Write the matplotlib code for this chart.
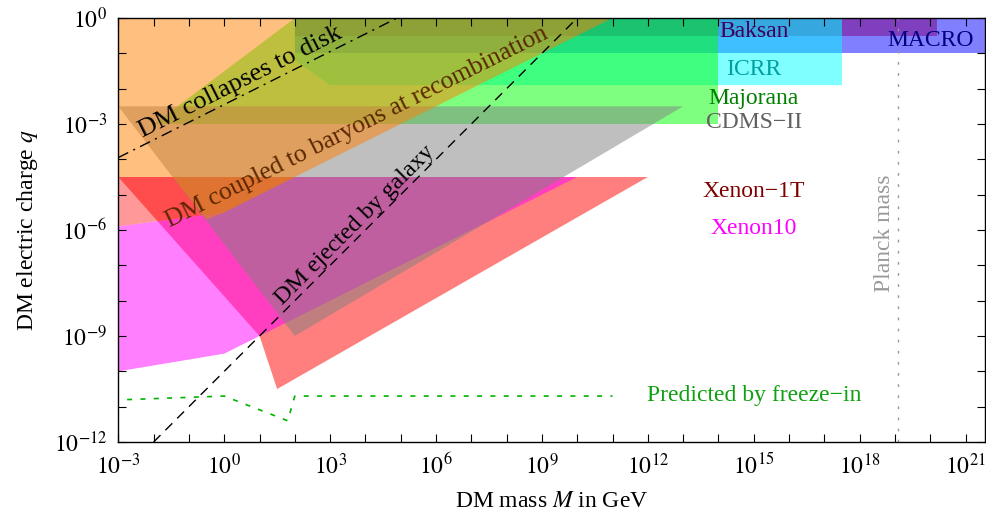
import matplotlib.pyplot as plt
import numpy as np

plt.rcParams['font.family'] = 'serif'
plt.rcParams['font.serif'] = ['Liberation Serif', 'DejaVu Serif']
plt.rcParams['mathtext.fontset'] = 'stix'

# --- Data: polygon vertices as log10(M / GeV), log10(q) ---
icrr_m = [2, 17.5, 17.5, 3, 2]
icrr_q = [0, 0, -1.9, -1.9, -1.2]
baksan_m = [2, 17.5, 17.5, 2]
baksan_q = [0, 0, -1, -1]
majorana_m = [2, 14, 14, -2]
majorana_q = [0, 0, -3, -3]
topband_m = [2, 17.5, 17.5, 2]
topband_q = [0, 0, -0.5, -0.5]
macro_m = [17.5, 21.6, 21.6, 17.5]
macro_q = [0, 0, -1, -1]
macro2_m = [17.5, 20.2, 20.2, 17.5]
macro2_q = [0, 0, -0.5, -0.5]
xenon1t_m = [-3, 12, 1.5, 1]
xenon1t_q = [-4.5, -4.5, -10.5, -9]
red2_m = [-3, 2, 0, -3]
red2_q = [-4.5, -4.5, -5.5, -5.9]
xenon10_m = [-3, 0, 2, 10, 1, 0, -3]
xenon10_q = [-5.9, -5.5, -4.5, -4.5, -9, -9.5, -10]
cdms_m = [-3, 13, 2]
cdms_q = [-2.5, -2.5, -9]
baryon_m = [-3, 11, 0, -0.5, -1.46, -3]
baryon_q = [0, 0, -5.5, -5.7, -4.5, -4.5]

# lines
collapse_m = [-3, 4.9]
collapse_q = [-3.95, 0]
ejected_m = [-2, 10]
ejected_q = [-12, 0]
freezein_m = [-2.75, 0, 1.8, 2, 11]
freezein_q = [-10.8, -10.7, -11.4, -10.7, -10.7]
planck_mass = 1.22e19

fig = plt.figure(figsize=(9.86, 5.2), dpi=100)
ax = fig.add_axes([118.3 / 986, 78 / 520, 867 / 986, 424 / 520])
ax.set_xscale('log')
ax.set_yscale('log')


def region(m, q, color, alpha=0.5):
    ax.fill(10.0 ** np.array(m), 10.0 ** np.array(q), color=color,
            alpha=alpha, linewidth=0)


# drawing order matters for the blended colours
region(icrr_m, icrr_q, (0, 1, 1))
region(baksan_m, baksan_q, (0, 0.5, 1))
region(majorana_m, majorana_q, (0, 1, 0))
region(topband_m, topband_q, (0, 0, 0), alpha=0.12)
region(macro_m, macro_q, (0, 0, 1))
region(macro2_m, macro2_q, (0.5, 0, 0.5))
region(xenon1t_m, xenon1t_q, (1, 0, 0))
region(red2_m, red2_q, (1, 0, 0), alpha=0.4)
region(xenon10_m, xenon10_q, (1, 0, 1))
region(cdms_m, cdms_q, (0.5, 0.5, 0.5))
region(baryon_m, baryon_q, (1, 0.5, 0))

ax.plot(10.0 ** np.array(collapse_m), 10.0 ** np.array(collapse_q),
        color='black', lw=1, linestyle=(0, (8, 4, 1.5, 4)))
ax.plot(10.0 ** np.array(ejected_m), 10.0 ** np.array(ejected_q),
        color='black', lw=1, linestyle=(0, (7, 5)))
ax.plot(10.0 ** np.array(freezein_m), 10.0 ** np.array(freezein_q),
        color='#00b400', lw=1.2, linestyle=(0, (3, 5)))
ax.axvline(planck_mass, color='#999999', lw=1, linestyle=(0, (2, 6)))

# labels
lab = dict(fontsize=17, ha='center', va='center')
ax.text(1e15, 10 ** -0.37, 'Baksan', color='#400060', **lab)
ax.text(1e20, 10 ** -0.65, 'MACRO', color='#000080', **lab)
ax.text(1e15, 10 ** -1.45, 'ICRR', color='#00a0a0', **lab)
ax.text(1e15, 10 ** -2.27, 'Majorana', color='#008000', **lab)
ax.text(1e15, 10 ** -2.95, 'CDMS\u2212II', color='#606060', **lab)
ax.text(1e15, 10 ** -4.92, 'Xenon\u22121T', color='#800000', **lab)
ax.text(1e15, 10 ** -5.95, 'Xenon10', color='#ff00ff', **lab)
ax.text(1e15, 10 ** -10.68, 'Predicted by freeze\u2212in', color='#10a010', **lab)
ax.text(10 ** 18.7, 10 ** -6.1, 'Planck mass', color='#999999',
        rotation=90, **lab)

curve = dict(ha='center', va='center', rotation_mode='anchor')
ax.text(10 ** 0.45, 10 ** -1.8, 'DM collapses to disk', color='black',
        fontsize=19, rotation=26.57, **curve)
ax.text(10 ** 3.76, 10 ** -3.09, 'DM coupled to baryons at recombination',
        color='#5a2800', fontsize=18.5, rotation=26.57, **curve)
ax.text(10 ** 3.7, 10 ** -5.86, 'DM ejected by galaxy', color='black',
        fontsize=17.5, rotation=45, **curve)

# axes
ax.set_xlim(1e-3, 10 ** 21.56)
ax.set_ylim(1e-12, 1)
xt = np.arange(-3, 22)
ax.set_xticks(10.0 ** xt)
ax.set_xticklabels([r'$10^{%d}$' % e if e % 3 == 0 else '' for e in xt])
yt = np.arange(-12, 1)
ax.set_yticks(10.0 ** yt)
ax.set_yticklabels([r'$10^{%d}$' % e if e % 3 == 0 else '' for e in yt])
ax.minorticks_off()
ax.tick_params(which='major', direction='in', length=6, width=0.8,
               top=True, right=True, labelsize=17, pad=8)
for s in ax.spines.values():
    s.set_linewidth(1.0)

ax.set_xlabel(r'DM mass $M$ in GeV', fontsize=17, labelpad=9)
ax.set_ylabel(r'DM electric charge $q$', fontsize=17, labelpad=10)

fig.savefig('out.png', dpi=100)
